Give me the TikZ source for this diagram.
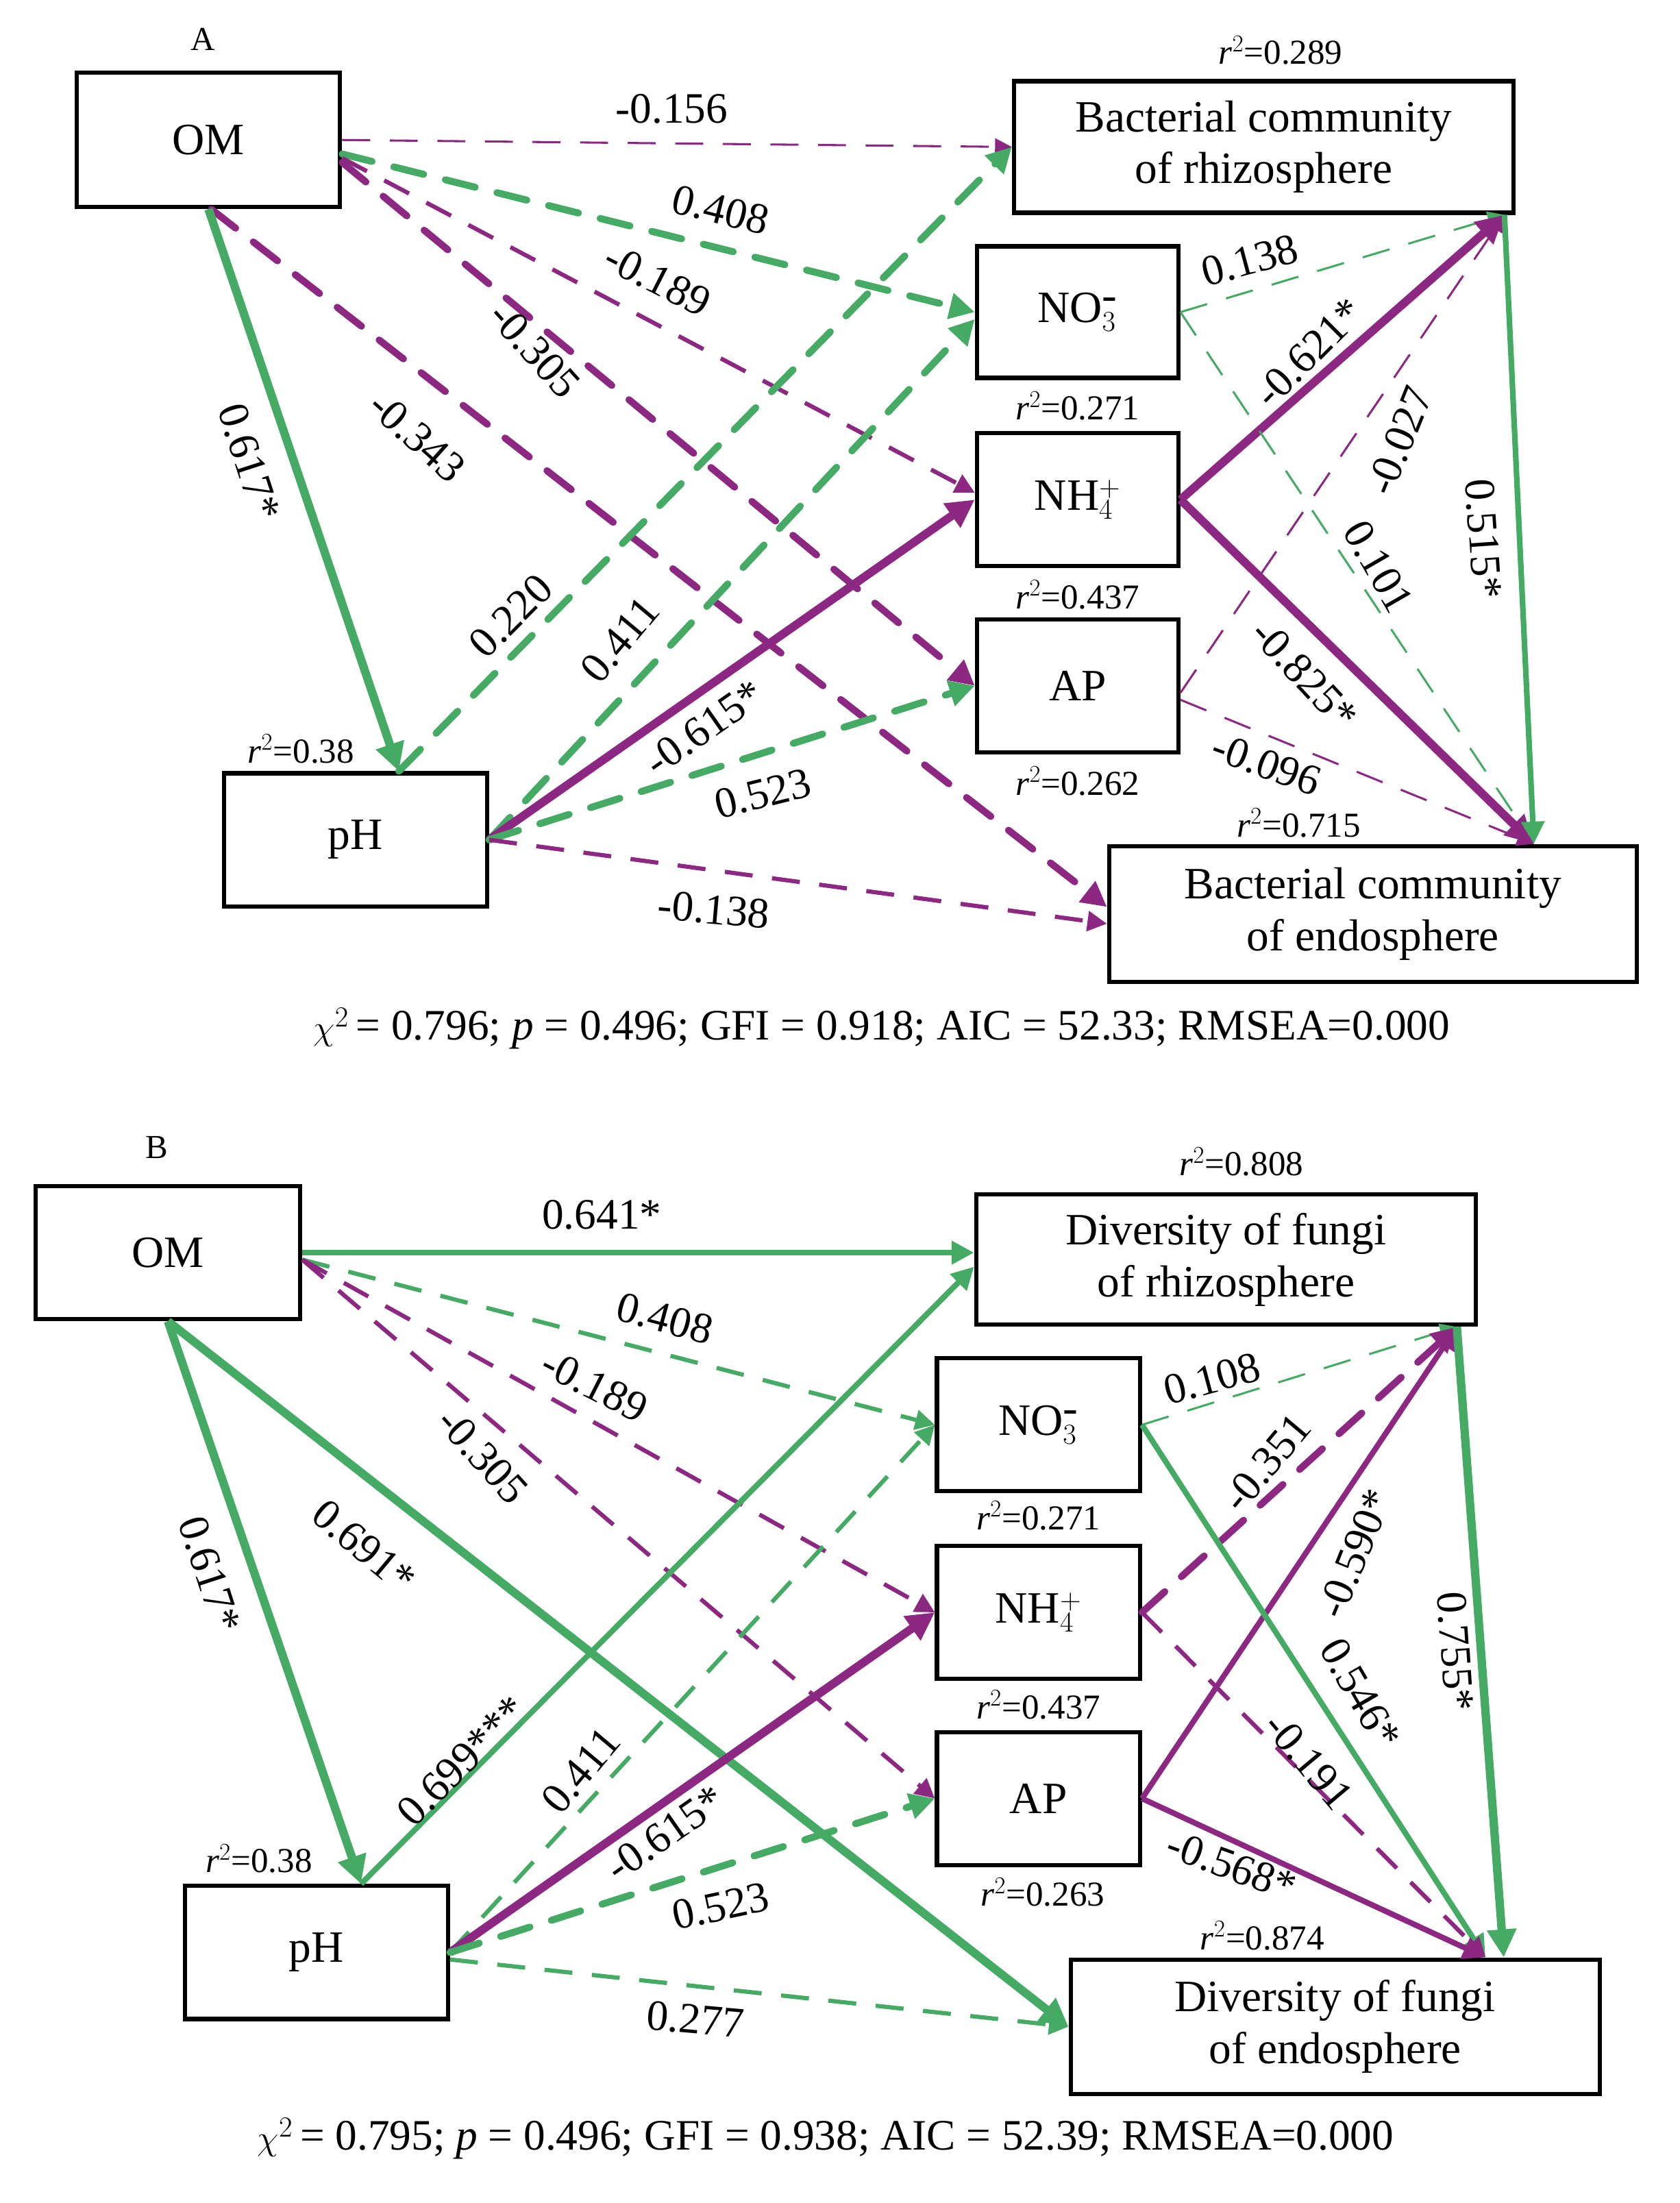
\documentclass[tikz,border=0pt]{standalone}
\usepackage{fontspec}
\setmainfont{Liberation Serif}
\usetikzlibrary{arrows.meta}
\definecolor{gr}{RGB}{68,170,100}
\definecolor{pu}{RGB}{140,40,130}
\begin{document}
\begin{tikzpicture}[x=1pt,y=1pt,
 box/.style={draw=black,line width=3,fill=white,align=center,inner sep=0,font=\fontsize{32}{37}\selectfont},
 lab/.style={font=\fontsize{31}{34}\selectfont,inner sep=0},
 rr/.style={font=\fontsize{25}{28}\selectfont,inner sep=0},
 sg/.style={gr,line width=6,-{Triangle[length=20,width=20]}},
 sp/.style={pu,line width=6,-{Triangle[length=20,width=20]}},
 mg/.style={gr,line width=4,-{Triangle[length=16,width=16]}},
 mp/.style={pu,line width=4,-{Triangle[length=16,width=16]}},
 dgk/.style={gr,line width=5,line cap=round,dash pattern=on 22 off 16,-{Triangle[length=18,width=18]}},
 dg/.style={gr,line width=3,dash pattern=on 20 off 14,-{Triangle[length=14,width=14]}},
 dgt/.style={gr,line width=1.5,dash pattern=on 20 off 14,-{Triangle[length=12,width=12]}},
 dp/.style={pu,line width=3,dash pattern=on 20 off 14,-{Triangle[length=14,width=14]}},
 dpk/.style={pu,line width=5,line cap=round,dash pattern=on 22 off 16,-{Triangle[length=18,width=18]}},
 dpt/.style={pu,line width=1.5,dash pattern=on 20 off 14,-{Triangle[length=12,width=12]}}]
\useasboundingbox (0,0) rectangle (1200,-1574);
% ---------- Panel A
\node[lab,font=\fontsize{24}{28}\selectfont] (tA) at (145,-28) {A};
\node[box,minimum width=188,minimum height=96] (om) at (149,-100) {OM};
\node[box,minimum width=357,minimum height=94] (bR) at (903,-105) {Bacterial community\\of rhizosphere};
\node[box,minimum width=144,minimum height=94] (no3) at (770,-223) {NO$_3^{\mbox{-}}$};
\node[box,minimum width=144,minimum height=95] (nh4) at (770,-357) {NH$_4^+$};
\node[box,minimum width=144,minimum height=95] (ap) at (770,-490) {AP};
\node[box,minimum width=188,minimum height=95] (ph) at (254,-600) {pH};
\node[box,minimum width=377,minimum height=97] (bE) at (981,-653) {Bacterial community\\of endosphere};
\node[rr] (r1) at (915,-36) {\textit{r}$^2$=0.289};
\node[rr] (r2) at (770,-290) {\textit{r}$^2$=0.271};
\node[rr] (r3) at (770,-425) {\textit{r}$^2$=0.437};
\node[rr] (r4) at (770,-558) {\textit{r}$^2$=0.262};
\node[rr] (r5) at (215,-535) {\textit{r}$^2$=0.38};
\node[rr] (r6) at (928,-588) {\textit{r}$^2$=0.715};
\draw[dpt] (om.east) -- (bR.west);
\draw[dgk] ([yshift=-10]om.east) -- (no3.west);
\draw[dp] ([yshift=-13]om.east) -- ([yshift=5]nh4.west);
\draw[dpk] ([yshift=-16]om.east) -- (ap.west);
\draw[dpk] ([xshift=2]om.south) -- ([yshift=5]bE.west);
\draw[sg] (om.south) -- ([xshift=31]ph.north);
\draw[dgk] ([xshift=31]ph.north) -- (bR.west);
\draw[dgk] (ph.east) -- ([yshift=-5]no3.west);
\draw[sp] (ph.east) -- (nh4.west);
\draw[dgk] (ph.east) -- (ap.west);
\draw[dp] (ph.east) -- ([yshift=-7]bE.west);
\draw[dgt] (no3.east) -- ([xshift=-8]bR.south east);
\draw[sp] (nh4.east) -- ([xshift=-8]bR.south east);
\draw[dpt] ([yshift=-5]ap.east) -- ([xshift=-8]bR.south east);
\draw[dgt] (no3.east) -- ([xshift=-75]bE.north east);
\draw[sp] (nh4.east) -- ([xshift=-75]bE.north east);
\draw[dpt] ([yshift=-10]ap.east) -- ([xshift=-75]bE.north east);
\draw[mg] ([xshift=-8]bR.south east) -- ([xshift=-75]bE.north east);
\node[lab] (a1) at (480,-78) {-0.156};
\node[lab,rotate=-14] (a2) at (515,-150) {0.408};
\node[lab,rotate=-27] (a3) at (470,-200) {-0.189};
\node[lab,rotate=-48] (a4) at (382,-250) {-0.305};
\node[lab,rotate=-42] (a5) at (298,-312) {-0.343};
\node[lab,rotate=-72] (a6) at (178,-330) {0.617*};
\node[lab,rotate=45] (a7) at (365,-440) {0.220};
\node[lab,rotate=50] (a8) at (443,-457) {0.411};
\node[lab,rotate=35] (a9) at (503,-520) {-0.615*};
\node[lab,rotate=14] (a10) at (545,-567) {0.523};
\node[lab,rotate=-5] (a11) at (510,-650) {-0.138};
\node[lab,rotate=15] (a12) at (893,-186) {0.138};
\node[lab,rotate=45] (a13) at (935,-252) {-0.621*};
\node[lab,rotate=68] (a14) at (1000,-315) {-0.027};
\node[lab,rotate=-60] (a15) at (985,-405) {0.101};
\node[lab,rotate=-47] (a16) at (932,-482) {-0.825*};
\node[lab,rotate=-20] (a17) at (905,-546) {-0.096};
\node[lab,rotate=-86] (a18) at (1060,-385) {0.515*};
\node[lab] (sA) at (630,-735) {$\chi^2$\,= 0.796; \textit{p} = 0.496; GFI = 0.918; AIC = 52.33; RMSEA=0.000};
% ---------- Panel B
\node[lab,font=\fontsize{24}{28}\selectfont] (tB) at (112,-820) {B};
\node[box,minimum width=189,minimum height=95] (om2) at (120,-895) {OM};
\node[box,minimum width=357,minimum height=93] (fR) at (876,-900) {Diversity of fungi\\of rhizosphere};
\node[box,minimum width=145,minimum height=95] (no32) at (742,-1018) {NO$_3^{\mbox{-}}$};
\node[box,minimum width=145,minimum height=95] (nh42) at (742,-1152) {NH$_4^+$};
\node[box,minimum width=145,minimum height=95] (ap2) at (742,-1285) {AP};
\node[box,minimum width=188,minimum height=95] (ph2) at (226,-1395) {pH};
\node[box,minimum width=378,minimum height=96] (fE) at (954,-1448) {Diversity of fungi\\of endosphere};
\node[rr] (q1) at (887,-830) {\textit{r}$^2$=0.808};
\node[rr] (q2) at (742,-1083) {\textit{r}$^2$=0.271};
\node[rr] (q3) at (742,-1218) {\textit{r}$^2$=0.437};
\node[rr] (q4) at (745,-1352) {\textit{r}$^2$=0.263};
\node[rr] (q5) at (185,-1328) {\textit{r}$^2$=0.38};
\node[rr] (q6) at (902,-1383) {\textit{r}$^2$=0.874};
\draw[mg] (om2.east) -- (om2.east -| fR.west);
\draw[dg] ([yshift=-5]om2.east) -- (no32.west);
\draw[dp] ([yshift=-5]om2.east) -- (nh42.west);
\draw[dp] ([yshift=-5]om2.east) -- (ap2.west);
\draw[sg] (om2.south) -- ([xshift=32]ph2.north);
\draw[sg] (om2.south) -- (fE.west);
\draw[mg] ([xshift=32]ph2.north) -- ([yshift=-5]fR.west);
\draw[dg] (ph2.east) -- (no32.west);
\draw[sp] (ph2.east) -- (nh42.west);
\draw[dgk] (ph2.east) -- (ap2.west);
\draw[dg] ([yshift=-5]ph2.east) -- (fE.west);
\draw[dgt] (no32.east) -- ([xshift=-15]fR.south east);
\draw[dpk] (nh42.east) -- ([xshift=-15]fR.south east);
\draw[mp] (ap2.east) -- ([xshift=-15]fR.south east);
\draw[mg] (no32.east) -- ([xshift=-83]fE.north east);
\draw[dp] (nh42.east) -- ([xshift=-83]fE.north east);
\draw[mp] (ap2.east) -- ([xshift=-83]fE.north east);
\draw[sg] ([xshift=-15]fR.south east) -- ([xshift=-70]fE.north east);
\node[lab] (b1) at (430,-868) {0.641*};
\node[lab,rotate=-15] (b2) at (475,-942) {0.408};
\node[lab,rotate=-27] (b3) at (425,-990) {-0.189};
\node[lab,rotate=-48] (b4) at (345,-1040) {-0.305};
\node[lab,rotate=-72] (b5) at (150,-1125) {0.617*};
\node[lab,rotate=-40] (b6) at (260,-1105) {0.691*};
\node[lab,rotate=45] (b7) at (330,-1258) {0.699***};
\node[lab,rotate=50] (b8) at (415,-1265) {0.411};
\node[lab,rotate=35] (b9) at (475,-1310) {-0.615*};
\node[lab,rotate=12] (b10) at (515,-1362) {0.523};
\node[lab,rotate=-5] (b11) at (497,-1443) {0.277};
\node[lab,rotate=15] (b12) at (866,-985) {0.108};
\node[lab,rotate=50] (b13) at (905,-1045) {-0.351};
\node[lab,rotate=68] (b14) at (968,-1110) {-0.590*};
\node[lab,rotate=-60] (b15) at (972,-1210) {0.546*};
\node[lab,rotate=-50] (b16) at (935,-1258) {-0.191};
\node[lab,rotate=-20] (b17) at (880,-1333) {-0.568*};
\node[lab,rotate=-86] (b18) at (1040,-1180) {0.755*};
\node[lab] (sB) at (590,-1528) {$\chi^2$\,= 0.795; \textit{p} = 0.496; GFI = 0.938; AIC = 52.39; RMSEA=0.000};
\end{tikzpicture}
\end{document}
